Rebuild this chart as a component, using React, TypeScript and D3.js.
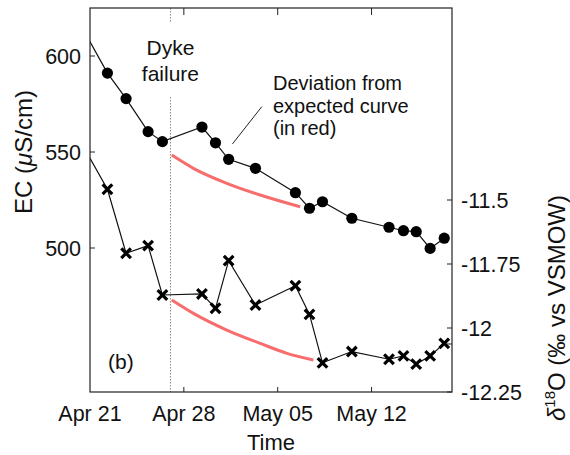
import React, { useRef, useEffect } from 'react'
import * as d3 from 'd3'

// sampling times (EC and d18O share them), first one sits left of the axis and is clipped
const sampleTimes = [
  '2014-04-20 08:24', '2014-04-22 07:12', '2014-04-23 16:34', '2014-04-25 08:00',
  '2014-04-26 09:36', '2014-04-29 08:24', '2014-04-30 08:38', '2014-05-01 08:10',
  '2014-05-03 08:10', '2014-05-06 07:41', '2014-05-07 08:53', '2014-05-08 08:10',
  '2014-05-10 12:43', '2014-05-13 07:12', '2014-05-14 09:07', '2014-05-15 07:55',
  '2014-05-16 08:53', '2014-05-17 10:05'
]
const ecValues = [
  615.6, 591.1, 577.8, 560.6, 555.4, 563.0, 554.8, 546.2, 541.5,
  528.8, 520.7, 524.1, 515.5, 510.8, 509.0, 508.5, 499.8, 505.1
]
const d18oValues = [
  -11.276, -11.458, -11.708, -11.678, -11.871, -11.867, -11.923, -11.737, -11.91,
  -11.835, -11.947, -12.136, -12.092, -12.122, -12.109, -12.141, -12.109, -12.06
]

// expected curves after the dyke failure (red)
const ecExpectedTimes = ['2014-04-27 02:24', '2014-04-28 17:02', '2014-05-01 04:48', '2014-05-03 16:34', '2014-05-06 16:05']
const ecExpectedValues = [548.4, 541.5, 533.7, 527.6, 521.5]
const d18oExpectedTimes = ['2014-04-27 02:24', '2014-04-28 17:02', '2014-05-01 04:48', '2014-05-03 16:34', '2014-05-05 16:34', '2014-05-07 15:50']
const d18oExpectedValues = [-11.891, -11.943, -12.008, -12.06, -12.099, -12.125]

const dykeFailure = '2014-04-27 00:00'
const timeDomain = ['2014-04-21 00:00', '2014-05-18 00:00']
const timeTicks = ['2014-04-21 00:00', '2014-04-28 00:00', '2014-05-05 00:00', '2014-05-12 00:00']
const ecDomain = [425, 625]
const ecTicks = [500, 550, 600]
const d18oDomain = [-12.25, -10.75]
const d18oTicks = [-12.25, -12, -11.75, -11.5]
const d18oTickLabels = ['-12.25', '-12', '-11.75', '-11.5']

const FONT = '"Liberation Sans", Arial, sans-serif'

function App() {
  const ref = useRef<SVGSVGElement | null>(null)

  useEffect(() => {
    document.body.style.margin = '0'
    const width = 570
    const height = 455
    const m = { left: 90, right: 118, top: 8, bottom: 63 }
    const parse = d3.timeParse('%Y-%m-%d %H:%M')

    const svg = d3.select(ref.current)
    svg.selectAll('*').remove()

    const x = d3.scaleTime()
      .domain(timeDomain.map(d => parse(d) as Date))
      .range([m.left, width - m.right])
    const yL = d3.scaleLinear().domain(ecDomain).range([height - m.bottom, m.top])
    const yR = d3.scaleLinear().domain(d18oDomain).range([height - m.bottom, m.top])

    const x0 = m.left, x1 = width - m.right, y0 = m.top, y1 = height - m.bottom

    svg.append('defs').append('clipPath').attr('id', 'plot-clip')
      .append('rect').attr('x', x0).attr('y', y0).attr('width', x1 - x0).attr('height', y1 - y0)

    const ecData = sampleTimes.map((t, i) => ({ t: parse(t) as Date, v: ecValues[i] }))
    const dData = sampleTimes.map((t, i) => ({ t: parse(t) as Date, v: d18oValues[i] }))
    const ecExp = ecExpectedTimes.map((t, i) => ({ t: parse(t) as Date, v: ecExpectedValues[i] }))
    const dExp = d18oExpectedTimes.map((t, i) => ({ t: parse(t) as Date, v: d18oExpectedValues[i] }))

    // dyke failure line, broken by the label
    const xd = x(parse(dykeFailure) as Date)
    const dyke = svg.append('g').attr('stroke', '#888').attr('stroke-width', 1).attr('stroke-dasharray', '1.5,1.5')
    dyke.append('line').attr('x1', xd).attr('x2', xd).attr('y1', y0).attr('y2', 22)
    dyke.append('line').attr('x1', xd).attr('x2', xd).attr('y1', 97).attr('y2', y1)

    const plot = svg.append('g').attr('clip-path', 'url(#plot-clip)')

    const curve = (ys: d3.ScaleLinear<number, number>) => d3.line<{ t: Date, v: number }>()
      .x(d => x(d.t)).y(d => ys(d.v))

    plot.append('path').datum(ecExp).attr('fill', 'none').attr('stroke', '#f76d6d').attr('stroke-width', 3)
      .attr('d', curve(yL).curve(d3.curveMonotoneX))
    plot.append('path').datum(dExp).attr('fill', 'none').attr('stroke', '#f76d6d').attr('stroke-width', 3)
      .attr('d', curve(yR).curve(d3.curveMonotoneX))

    plot.append('path').datum(ecData).attr('fill', 'none').attr('stroke', '#111').attr('stroke-width', 1.2)
      .attr('d', curve(yL))
    plot.append('path').datum(dData).attr('fill', 'none').attr('stroke', '#111').attr('stroke-width', 1.2)
      .attr('d', curve(yR))

    plot.selectAll('circle.ec').data(ecData).join('circle')
      .attr('class', 'ec')
      .attr('cx', d => x(d.t)).attr('cy', d => yL(d.v)).attr('r', 5.6).attr('fill', '#000')

    const s = 4.8
    plot.selectAll('path.cross').data(dData).join('path')
      .attr('class', 'cross')
      .attr('transform', d => `translate(${x(d.t)},${yR(d.v)})`)
      .attr('d', `M${-s},${-s}L${s},${s}M${-s},${s}L${s},${-s}`)
      .attr('stroke', '#000').attr('stroke-width', 3.2).attr('fill', 'none')

    // axes box
    svg.append('rect').attr('x', x0).attr('y', y0).attr('width', x1 - x0).attr('height', y1 - y0)
      .attr('fill', 'none').attr('stroke', '#222').attr('stroke-width', 1.2)

    const tickLen = 5
    const tk = svg.append('g').attr('stroke', '#222').attr('stroke-width', 1)
    timeTicks.slice(1).forEach(t => {
      const xt = x(parse(t) as Date)
      tk.append('line').attr('x1', xt).attr('x2', xt).attr('y1', y1).attr('y2', y1 - tickLen)
      tk.append('line').attr('x1', xt).attr('x2', xt).attr('y1', y0).attr('y2', y0 + tickLen + 2)
    })
    ecTicks.forEach(v => {
      tk.append('line').attr('x1', x0).attr('x2', x0 + tickLen).attr('y1', yL(v)).attr('y2', yL(v))
    })
    tk.append('line').attr('x1', x1).attr('x2', x1 - tickLen).attr('y1', yL(450)).attr('y2', yL(450))
    d18oTicks.forEach(v => {
      tk.append('line').attr('x1', x1).attr('x2', x1 - tickLen).attr('y1', yR(v)).attr('y2', yR(v))
    })

    const txt = svg.append('g').attr('font-family', FONT).attr('fill', '#111')
    const fmt = d3.timeFormat('%b %d')
    timeTicks.forEach(t => {
      const d = parse(t) as Date
      txt.append('text').attr('x', x(d)).attr('y', 421).attr('text-anchor', 'middle')
        .attr('font-size', 21.5).text(fmt(d))
    })
    ecTicks.forEach(v => {
      txt.append('text').attr('x', x0 - 9).attr('y', yL(v)).attr('dy', '0.35em')
        .attr('text-anchor', 'end').attr('font-size', 21.5).text(v)
    })
    d18oTicks.forEach((v, i) => {
      txt.append('text').attr('x', x1 + 9).attr('y', yR(v)).attr('dy', '0.35em')
        .attr('font-size', 21.5).text(d18oTickLabels[i])
    })

    txt.append('text').attr('x', (x0 + x1) / 2).attr('y', 450).attr('text-anchor', 'middle')
      .attr('font-size', 22).text('Time')

    const ll = txt.append('text').attr('transform', 'translate(32,152) rotate(-90)').attr('text-anchor', 'middle')
      .attr('font-size', 24)
    ll.append('tspan').text('EC (')
    ll.append('tspan').attr('font-style', 'italic').text('μ')
    ll.append('tspan').text('S/cm)')

    const rl = txt.append('text').attr('transform', 'translate(565,308) rotate(-90)')
      .attr('text-anchor', 'middle').attr('font-size', 24)
    rl.append('tspan').attr('font-style', 'italic').text('δ')
    rl.append('tspan').attr('font-size', 15).attr('dy', -10).text('18')
    rl.append('tspan').attr('dy', 10).text('O (‰ vs VSMOW)')

    txt.append('text').attr('x', xd).attr('y', 55).attr('text-anchor', 'middle').attr('font-size', 21).text('Dyke')
    txt.append('text').attr('x', xd).attr('y', 81).attr('text-anchor', 'middle').attr('font-size', 21).text('failure')

    const note = ['Deviation from', 'expected curve', '(in red)']
    note.forEach((l, i) => {
      txt.append('text').attr('x', 273).attr('y', 90 + i * 22.5).attr('font-size', 20).text(l)
    })
    // pointer from note to the curve, in data units
    svg.append('line')
      .attr('x1', x(parse('2014-05-03 19:30') as Date)).attr('y1', yL(573.6))
      .attr('x2', x(parse('2014-05-01 15:00') as Date)).attr('y2', yL(554.2))
      .attr('stroke', '#222').attr('stroke-width', 1)

    txt.append('text').attr('x', 108).attr('y', 369).attr('font-size', 21).text('(b)')
  }, [])

  return <svg ref={ref} width={570} height={455} style={{ display: 'block', background: '#fff' }} />
}

export default App
